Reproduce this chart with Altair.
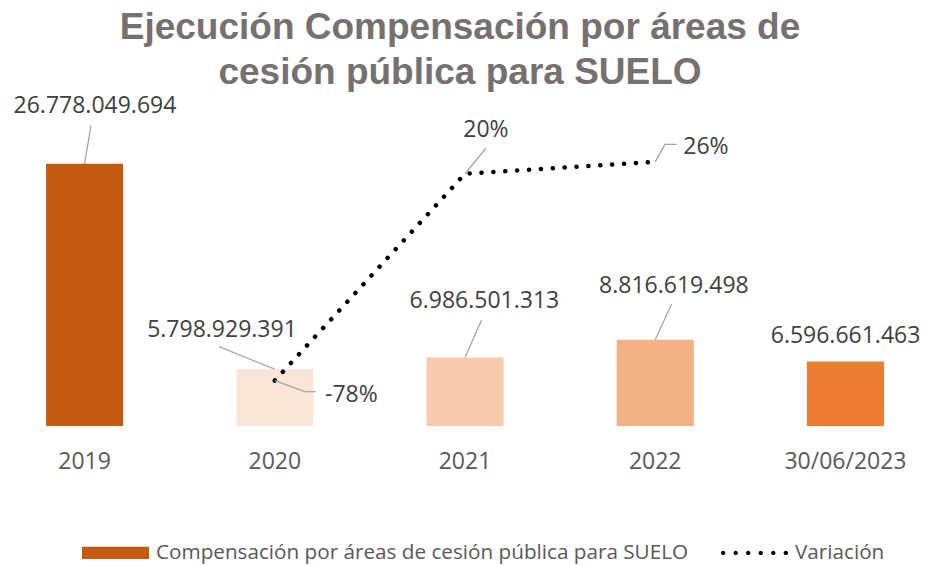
import altair as alt
import pandas as pd

# ---------------- data ----------------
categories = ["2019", "2020", "2021", "2022", "30/06/2023"]
values = [26778049694, 5798929391, 6986501313, 8816619498, 6596661463]
bar_colors = ["#C55A11", "#FBE5D6", "#F8CBAD", "#F4B183", "#ED7D31"]
var_categories = ["2020", "2021", "2022"]
var_values = [-0.783, 0.205, 0.262]
series_names = ["Compensación por áreas de cesión pública para SUELO", "Variación"]
title_lines = ["Ejecución Compensación por áreas de", "cesión pública para SUELO"]

bars_df = pd.DataFrame({
    "cat": categories,
    "value": values,
    "label": [f"{v:,}".replace(",", ".") for v in values],
})
var_df = pd.DataFrame({
    "cat": var_categories,
    "var": var_values,
    "label": [f"{round(v * 100)}%" for v in var_values],
})
legend_df = pd.DataFrame({"serie": series_names})

# ---------------- styles / label placement ----------------
FONT = "Open Sans"
LABEL_COLOR = "#404040"
LEADER = "#A6A6A6"

bar_label_offsets = {
    "2019": (10.4, -50.5),
    "2020": (-52.8, -32.5),
    "2021": (19.4, -49.3),
    "2022": (18.7, -47.0),
    "30/06/2023": (0.1, -18.7),
}
bar_leaders = {
    "2019": [(0, 0, 6.4, -38.3)],
    "2020": [(0, 0, -55.8, -22.5)],
    "2021": [(0, 0, 16.6, -37.6)],
    "2022": [(0, 0, 16.4, -35.7)],
}
var_label_offsets = {
    "2020": (50.2, 21.1, "left"),
    "2021": (20.9, -37.1, "center"),
    "2022": (50.7, -7.8, "center"),
}
var_leaders = {
    "2020": [(0, 0, 30.2, 11.1), (30.2, 11.1, 41.2, 11.1)],
    "2021": [(0, 0, 20.9, -25.5)],
    "2022": [(0, 0, 9.7, -17.5), (9.7, -17.5, 21.4, -17.5)],
}

x_scale = alt.Scale(domain=categories, paddingInner=0.595, paddingOuter=0.2)
x_axis = alt.Axis(title=None, domain=False, ticks=False, grid=False, labelAngle=0,
                  labelFont=FONT, labelFontSize=23, labelColor="#595959", labelPadding=24)


def X(bp=None):
    if bp is None:
        return alt.X("cat:N", sort=categories, scale=x_scale, axis=x_axis)
    return alt.X("cat:N", sort=categories, scale=x_scale, axis=x_axis, bandPosition=bp)


def YB():
    return alt.Y("value:Q", scale=alt.Scale(domain=[0, 33.5e9], nice=False, zero=True), axis=None)


def YV():
    return alt.Y("var:Q", scale=alt.Scale(domain=[-1.0, 0.567], nice=False, zero=False), axis=None)


layers = []

# bars
layers.append(
    alt.Chart(bars_df).mark_bar().encode(
        x=X(),
        y=YB(),
        fill=alt.Fill("cat:N", scale=alt.Scale(domain=categories, range=bar_colors), legend=None),
    )
)

# bar leader lines
for c, segs in bar_leaders.items():
    for (x0, y0, x1, y1) in segs:
        layers.append(
            alt.Chart(bars_df).transform_filter(alt.datum.cat == c).mark_rule(
                color=LEADER, strokeWidth=1.3,
                xOffset=x0, yOffset=y0, x2Offset=x1, y2Offset=y1,
            ).encode(
                x=X(0.5), x2=alt.X2("cat:N", bandPosition=0.5),
                y=YB(), y2=alt.Y2("value:Q"),
            )
        )

# bar labels
for c, (dx, dy) in bar_label_offsets.items():
    layers.append(
        alt.Chart(bars_df).transform_filter(alt.datum.cat == c).mark_text(
            font=FONT, fontSize=23, color=LABEL_COLOR, align="center",
            baseline="alphabetic", dx=dx, dy=dy,
        ).encode(x=X(), y=YB(), text="label:N")
    )

# variation line
layers.append(
    alt.Chart(var_df).mark_line(
        color="black", strokeWidth=4.5, strokeDash=[0.1, 11.8], strokeCap="round",
    ).encode(x=X(), y=YV())
)

# variation leaders
for c, segs in var_leaders.items():
    for (x0, y0, x1, y1) in segs:
        layers.append(
            alt.Chart(var_df).transform_filter(alt.datum.cat == c).mark_rule(
                color=LEADER, strokeWidth=1.3,
                xOffset=x0, yOffset=y0, x2Offset=x1, y2Offset=y1,
            ).encode(
                x=X(0.5), x2=alt.X2("cat:N", bandPosition=0.5),
                y=YV(), y2=alt.Y2("var:Q"),
            )
        )

# variation labels
for c, (dx, dy, al) in var_label_offsets.items():
    layers.append(
        alt.Chart(var_df).transform_filter(alt.datum.cat == c).mark_text(
            font=FONT, fontSize=23, color=LABEL_COLOR, align=al,
            baseline="alphabetic", dx=dx, dy=dy,
        ).encode(x=X(), y=YV(), text="label:N")
    )

# legend (carried by an empty layer)
rect_path = "M-1,-0.18H1V0.18H-1Z"
dot_centers = [-0.935, -0.561, -0.187, 0.187, 0.561, 0.935]
dots_path = "".join(
    f"M{cx - 0.065:.3f},0a0.065,0.065 0 1,0 0.13,0a0.065,0.065 0 1,0 -0.13,0Z" for cx in dot_centers
)
leg = alt.Legend(
    title=None, orient="none", legendX=74, legendY=421, direction="horizontal",
    columns=2, columnPadding=32, labelOffset=7, padding=0,
    labelFont=FONT, labelFontSize=20.7, labelColor="#595959", labelLimit=1000,
    symbolSize=4489, symbolStrokeWidth=0, symbolOpacity=1,
)
layers.append(
    alt.Chart(legend_df).transform_filter("false").mark_point(filled=True, opacity=1, size=4489).encode(
        color=alt.Color("serie:N", scale=alt.Scale(domain=series_names, range=["#C55A11", "#000000"]), legend=leg),
        shape=alt.Shape("serie:N", scale=alt.Scale(domain=series_names, range=[rect_path, dots_path]), legend=leg),
    )
)

chart = alt.layer(*layers).resolve_scale(
    y="independent", color="independent", shape="independent", fill="independent"
).properties(
    width=914,
    height=328,
    padding={"left": 0, "top": 90, "right": 16, "bottom": 139},
    autosize=alt.AutoSizeParams(type="none"),
    title=alt.TitleParams(
        text=title_lines, font="Liberation Sans", fontSize=37, fontWeight="bold",
        color="#767171", anchor="middle", lineHeight=45, offset=3, dx=-5,
    ),
    background="white",
).configure_view(stroke=None)

chart.save("out.html", embed_options={"renderer": "svg", "actions": False})
